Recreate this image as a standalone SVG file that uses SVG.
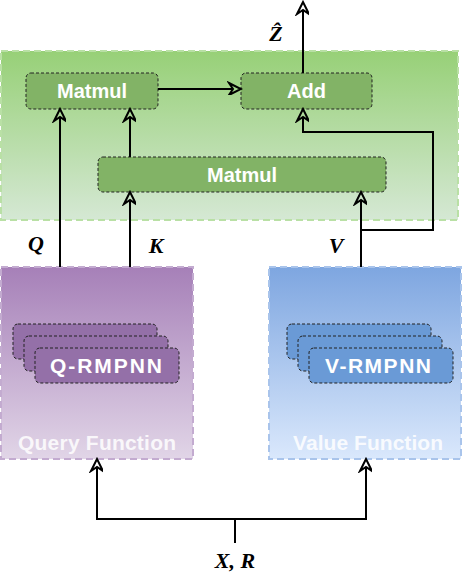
<svg xmlns="http://www.w3.org/2000/svg" width="463" height="573" viewBox="0 0 463 573">
<defs>
<linearGradient id="gGreen" x1="0" y1="0" x2="0" y2="1"><stop offset="0" stop-color="#97d077"/><stop offset="1" stop-color="#d5e8d4"/></linearGradient>
<linearGradient id="gPurple" x1="0" y1="0" x2="0" y2="1"><stop offset="0" stop-color="#a680b8"/><stop offset="1" stop-color="#e1d5e7"/></linearGradient>
<linearGradient id="gBlue" x1="0" y1="0" x2="0" y2="1"><stop offset="0" stop-color="#7ea6e0"/><stop offset="1" stop-color="#dae8fc"/></linearGradient>
<marker id="arr" markerUnits="userSpaceOnUse" markerWidth="16" markerHeight="14" refX="4" refY="6" orient="auto" viewBox="-2 -2 16 14">
<path d="M0,0 L12,6 L0,12 L4,6 Z" fill="none" stroke="#000" stroke-width="2" stroke-linejoin="miter"/>
</marker>
</defs>
<style>
.cont{stroke-width:2;stroke-dasharray:7 4}
.op{fill:#82b366;stroke:#222;stroke-width:1;stroke-dasharray:3 2}
.lbl{font-family:"Liberation Sans",Arial,sans-serif;font-weight:bold;fill:#fff;text-anchor:middle}
.fn{font-family:"Liberation Sans",Arial,sans-serif;font-weight:bold;fill:#fff;fill-opacity:0.85;text-anchor:middle;font-size:21px}
.math{font-family:"Liberation Serif","Times New Roman",serif;font-weight:bold;font-style:italic;fill:#000;text-anchor:middle;font-size:22px}
.qr{fill:#9470a8;stroke:#222;stroke-width:1;stroke-dasharray:3 2}
.vr{fill:#6a9ad6;stroke:#222;stroke-width:1;stroke-dasharray:3 2}
.conn path{fill:none;stroke:#000;stroke-width:2}
</style>

<g id="attention">
<rect x="1" y="51" width="457" height="169" fill="url(#gGreen)" stroke="#b9e0a5" class="cont"/>
</g>
<g id="query-function">
<rect x="1" y="267" width="192" height="192" fill="url(#gPurple)" stroke="#c3abd0" class="cont"/>
<text class="fn" x="97" y="450" textLength="158" lengthAdjust="spacing">Query Function</text>
</g>
<g id="value-function">
<rect x="269" y="267" width="192" height="192" fill="url(#gBlue)" stroke="#a9c4eb" class="cont"/>
<text class="fn" x="368" y="450" textLength="150" lengthAdjust="spacing">Value Function</text>
</g>

<g id="matmul-top">
<rect class="op" x="26" y="73" width="132" height="36" rx="5"/>
<text class="lbl" x="92" y="98" font-size="20">Matmul</text>
</g>
<g id="add">
<rect class="op" x="241" y="73" width="131" height="36" rx="5"/>
<text class="lbl" x="306.5" y="98" font-size="20">Add</text>
</g>
<g id="matmul-bottom">
<rect class="op" x="98" y="157" width="288" height="35" rx="5"/>
<text class="lbl" x="242" y="182" font-size="20">Matmul</text>
</g>

<g id="q-rmpnn">
<rect class="qr" x="13" y="324" width="144" height="35" rx="5"/>
<rect class="qr" x="24" y="336" width="144" height="35" rx="5"/>
<rect class="qr" x="35" y="348" width="144" height="35" rx="5"/>
<text class="lbl" x="106" y="373" font-size="21" textLength="112" lengthAdjust="spacing">Q-RMPNN</text>
</g>
<g id="v-rmpnn">
<rect class="vr" x="287" y="324" width="144" height="35" rx="5"/>
<rect class="vr" x="298" y="336" width="144" height="35" rx="5"/>
<rect class="vr" x="309" y="348" width="144" height="35" rx="5"/>
<text class="lbl" x="378" y="373" font-size="21" textLength="106" lengthAdjust="spacing">V-RMPNN</text>
</g>

<g class="conn" id="connectors">
<path d="M60,267 V117" marker-end="url(#arr)"/>
<path d="M130,267 V200" marker-end="url(#arr)"/>
<path d="M130,157 V117" marker-end="url(#arr)"/>
<path d="M361,267 V200" marker-end="url(#arr)"/>
<path d="M361,230 H433 V132 H303 V117" marker-end="url(#arr)"/>
<path d="M158,89 H233" marker-end="url(#arr)"/>
<path d="M303,73 V10" marker-end="url(#arr)"/>
<path d="M235,543 V519"/>
<path d="M235,519 H97 V467" marker-end="url(#arr)"/>
<path d="M235,519 H366 V467" marker-end="url(#arr)"/>
</g>

<g id="labels">
<text class="math" x="276" y="41">Ẑ</text>
<text class="math" x="36" y="251">Q</text>
<text class="math" x="156" y="253">K</text>
<text class="math" x="336" y="253">V</text>
<text class="math" x="235" y="568">X, R</text>
</g>
</svg>
